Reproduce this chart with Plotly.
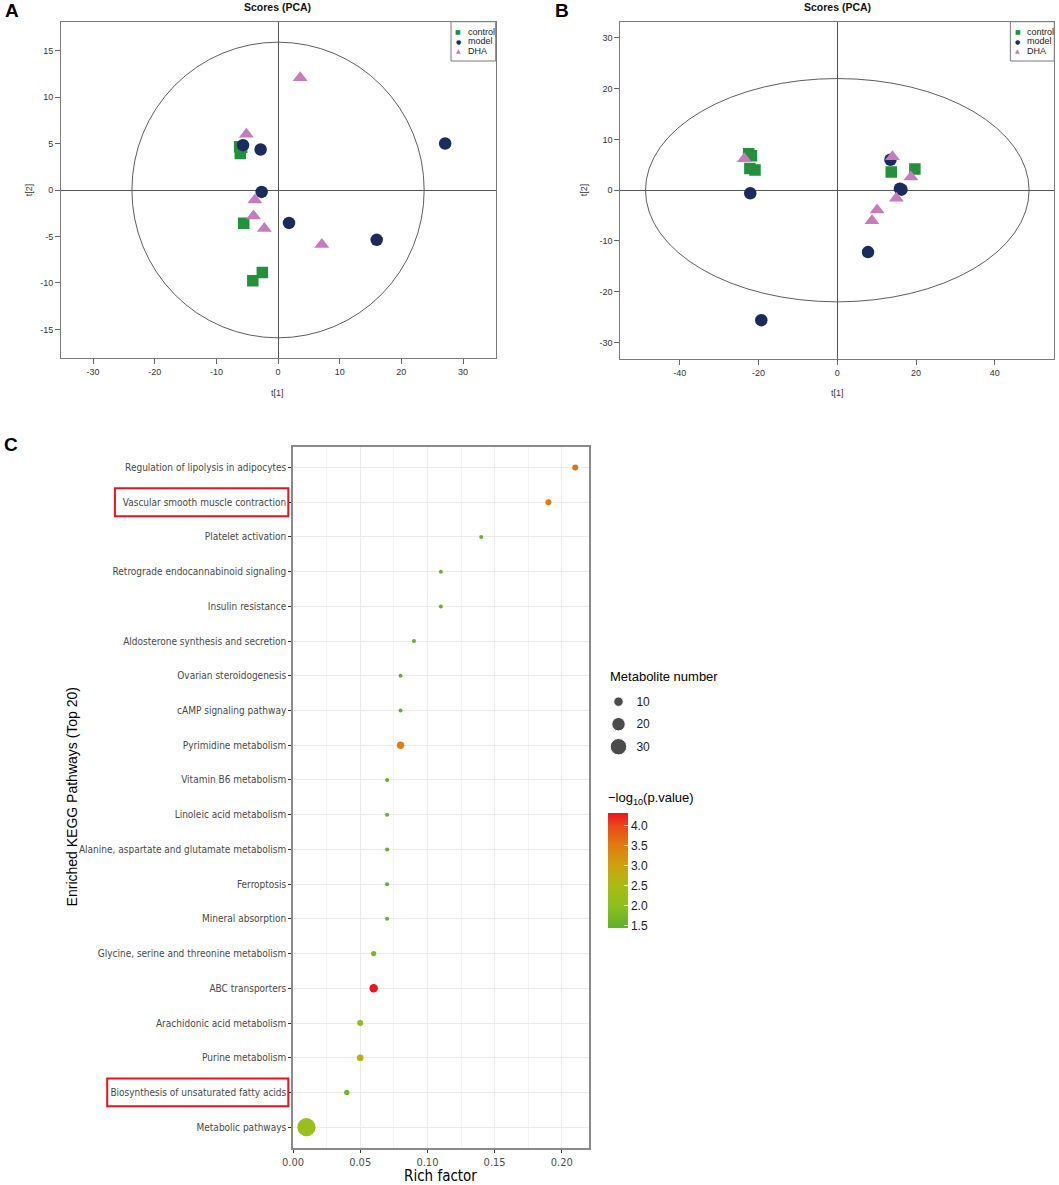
import plotly.graph_objects as go

W, H = 1059, 1185


def px(v):
    return v / W


def py(v):
    return 1 - v / H


# ---- PCA scores, panel A ----
a_control_t1 = [-6.23, -5.9, -6.12, -5.57, -2.55, -4.09]
a_control_t2 = [4.64, 4.6, 3.93, -3.57, -8.86, -9.75]
a_model_t1 = [-5.68, -2.83, -2.66, 1.78, 16.0, 27.1]
a_model_t2 = [4.82, 4.36, -0.21, -3.54, -5.36, 5.0]
a_dha_t1 = [3.59, -5.13, -3.76, -3.98, -2.22, 7.1]
a_dha_t2 = [12.07, 6.0, -1.07, -2.79, -4.14, -5.86]
a_ellipse = (23.7, 15.9)

# ---- PCA scores, panel B ----
b_control_t1 = [-22.5, -21.8, -22.2, -20.9, 13.7, 19.7]
b_control_t2 = [7.2, 6.8, 4.3, 4.0, 3.6, 4.2]
b_model_t1 = [-22.1, -19.3, 13.5, 15.9, 16.3, 7.8]
b_model_t2 = [-0.6, -25.6, 6.0, 0.3, 0.1, -12.2]
b_dha_t1 = [-23.6, 14.0, 18.7, 15.0, 10.1, 8.8]
b_dha_t2 = [6.2, 6.6, 2.6, -1.6, -3.9, -6.0]
b_ellipse = (48.7, 22.0)

# ---- KEGG enrichment, panel C (top to bottom) ----
pathways = [
    "Regulation of lipolysis in adipocytes",
    "Vascular smooth muscle contraction",
    "Platelet activation",
    "Retrograde endocannabinoid signaling",
    "Insulin resistance",
    "Aldosterone synthesis and secretion",
    "Ovarian steroidogenesis",
    "cAMP signaling pathway",
    "Pyrimidine metabolism",
    "Vitamin B6 metabolism",
    "Linoleic acid metabolism",
    "Alanine, aspartate and glutamate metabolism",
    "Ferroptosis",
    "Mineral absorption",
    "Glycine, serine and threonine metabolism",
    "ABC transporters",
    "Arachidonic acid metabolism",
    "Purine metabolism",
    "Biosynthesis of unsaturated fatty acids",
    "Metabolic pathways",
]
rich_factor = [0.21, 0.19, 0.14, 0.11, 0.11, 0.09, 0.08, 0.08, 0.08, 0.07,
               0.07, 0.07, 0.07, 0.07, 0.06, 0.06, 0.05, 0.05, 0.04, 0.01]
metabolite_number = [4, 4, 1, 1, 1, 1, 1, 1, 6, 1,
                     1, 1, 1, 1, 3, 8, 4, 5, 3, 37]
neg_log10_p = [3.6, 3.45, 1.55, 1.5, 1.5, 1.47, 1.46, 1.46, 3.45, 1.44,
               1.44, 1.44, 1.44, 1.44, 1.75, 4.31, 2.0, 2.75, 1.65, 2.25]
highlighted = ["Vascular smooth muscle contraction", "Biosynthesis of unsaturated fatty acids"]

size_breaks = [10, 20, 30]
cbar_ticks = [1.5, 2.0, 2.5, 3.0, 3.5, 4.0]

groups = ["control", "model", "DHA"]
colors = {"control": "#23913b", "model": "#1b2b5e", "DHA": "#c67bbc"}
symbols = {"control": "square", "model": "circle", "DHA": "triangle-up"}
msize = {"control": 11.5, "model": 12.5, "DHA": 13}
glyphs = {"control": "\u25A0", "model": "\u25CF", "DHA": "\u25B2"}

pvalue_scale = [[0, "#5fb02c"], [0.2, "#8dc01e"], [0.37, "#abbb16"], [0.55, "#cfa010"],
                [0.72, "#e17a10"], [0.88, "#e84c18"], [1, "#ec1620"]]

sans = "Liberation Sans, Arial, sans-serif"
narrow = "Liberation Sans Narrow, Arial Narrow, DejaVu Sans Condensed, sans-serif"
sizeref = 2.0 / 9.0

fig = go.Figure()

pca = {
    "A": ("x", "y", [(a_control_t1, a_control_t2), (a_model_t1, a_model_t2), (a_dha_t1, a_dha_t2)]),
    "B": ("x2", "y2", [(b_control_t1, b_control_t2), (b_model_t1, b_model_t2), (b_dha_t1, b_dha_t2)]),
}
for panel, (xa, ya, series) in pca.items():
    for g, (t1, t2) in zip(groups, series):
        fig.add_trace(go.Scatter(
            x=t1, y=t2, mode="markers", xaxis=xa, yaxis=ya, showlegend=False,
            marker=dict(symbol=symbols[g], size=msize[g], color=colors[g], line=dict(width=0)),
        ))

# enrichment bubbles
fig.add_trace(go.Scatter(
    x=rich_factor, y=pathways, mode="markers", xaxis="x3", yaxis="y3", showlegend=False,
    marker=dict(
        size=metabolite_number, sizemode="area", sizeref=sizeref, sizemin=2,
        color=neg_log10_p, colorscale=pvalue_scale, opacity=1,
        cmin=min(neg_log10_p), cmax=max(neg_log10_p), line=dict(width=0),
        colorbar=dict(
            x=px(608.3), xanchor="left", xpad=0, y=py(870.8), yanchor="middle", ypad=0,
            len=115, lenmode="pixels", thickness=20, outlinewidth=0,
            tickvals=cbar_ticks, ticktext=["%.1f" % v for v in cbar_ticks],
            ticks="inside", ticklen=4, tickcolor="white",
            tickfont=dict(family=sans, size=12, color="#1a1a1a"),
        ),
    ),
))

# size legend
fig.add_trace(go.Scatter(
    x=[0] * len(size_breaks), y=[str(v) for v in size_breaks], mode="markers",
    xaxis="x4", yaxis="y4", showlegend=False,
    marker=dict(size=size_breaks, sizemode="area", sizeref=sizeref, color="black"),
))

pca_axis = dict(showgrid=False, showline=True, mirror=True, linecolor="#7a7a7a", linewidth=1,
                ticks="outside", ticklen=5, tickcolor="#666", zeroline=True,
                zerolinecolor="#555", zerolinewidth=1,
                tickfont=dict(family=sans, size=9, color="#333"))

a_xt = [-30, -20, -10, 0, 10, 20, 30]
a_yt = [-15, -10, -5, 0, 5, 10, 15]
b_xt = [-40, -20, 0, 20, 40]
b_yt = [-30, -20, -10, 0, 10, 20, 30]

fig.update_layout(
    width=W, height=H, template="none", margin=dict(l=0, r=0, t=0, b=0),
    paper_bgcolor="white", plot_bgcolor="white", showlegend=False,
    xaxis=dict(pca_axis, domain=[px(61), px(495.7)], range=[-35.2, 35.3], anchor="y",
               tickvals=a_xt, ticktext=[str(v) for v in a_xt]),
    yaxis=dict(pca_axis, domain=[py(358.3), py(21.7)], range=[-18.1, 18.1], anchor="x",
               tickvals=a_yt, ticktext=[str(v) for v in a_yt]),
    xaxis2=dict(pca_axis, domain=[px(620.3), px(1054.3)], range=[-55.1, 55.1], anchor="y2",
                tickvals=b_xt, ticktext=[str(v) for v in b_xt]),
    yaxis2=dict(pca_axis, domain=[py(358.7), py(21.7)], range=[-33.2, 33.2], anchor="x2",
                tickvals=b_yt, ticktext=[str(v) for v in b_yt]),
    xaxis3=dict(domain=[px(293), px(588.7)], range=[0, 0.22], anchor="y3",
                tickvals=[0, 0.05, 0.1, 0.15, 0.2], tickformat=".2f",
                showgrid=True, gridcolor="#ebebeb", gridwidth=1,
                minor=dict(dtick=0.025, tick0=0, showgrid=True, gridcolor="#f4f4f4", gridwidth=0.6),
                showline=True, mirror=True, linecolor="#8a8a8a", linewidth=1.5,
                ticks="outside", ticklen=3, tickcolor="#333", zeroline=False,
                tickfont=dict(family=narrow, size=11, color="#4d4d4d")),
    yaxis3=dict(domain=[py(1148), py(446.7)], anchor="x3", type="category",
                categoryorder="array", categoryarray=pathways[::-1], range=[-0.6, len(pathways) - 0.4],
                showgrid=True, gridcolor="#ebebeb", gridwidth=1.2,
                showline=True, mirror=True, linecolor="#8a8a8a", linewidth=1.5,
                ticks="outside", ticklen=3, tickcolor="#333", zeroline=False,
                tickfont=dict(family=narrow, size=10, color="#474747")),
    xaxis4=dict(domain=[px(608), px(629)], range=[-1, 1], anchor="y4", visible=False),
    yaxis4=dict(domain=[py(758), py(690.4)], anchor="x4", side="right", type="category",
                categoryorder="array", categoryarray=[str(v) for v in size_breaks[::-1]],
                range=[-0.5, len(size_breaks) - 0.5], showgrid=False, showline=False, zeroline=False,
                ticks="outside", ticklen=4, tickcolor="rgba(0,0,0,0)",
                tickfont=dict(family=sans, size=12, color="#1a1a1a")),
)

shapes = []
for xa, ya, (rx, ry) in [("x", "y", a_ellipse), ("x2", "y2", b_ellipse)]:
    shapes.append(dict(type="circle", xref=xa, yref=ya, x0=-rx, x1=rx, y0=-ry, y1=ry,
                       line=dict(color="#333", width=0.8), layer="below"))

# legend boxes for the PCA panels
for x0, x1 in [(451, 495.7), (1010.4, 1054.3)]:
    shapes.append(dict(type="rect", xref="paper", yref="paper", x0=px(x0), x1=px(x1),
                       y0=py(61), y1=py(21.7), line=dict(color="#7a7a7a", width=1),
                       fillcolor="white"))

# red boxes around highlighted pathways
rev = pathways[::-1]
box_left = {"Vascular smooth muscle contraction": 114.9,
            "Biosynthesis of unsaturated fatty acids": 107.2}
for name in highlighted:
    i = rev.index(name)
    shapes.append(dict(type="rect", xref="paper", yref="y3", x0=px(box_left[name]), x1=px(288.3),
                       y0=i - 0.4, y1=i + 0.4, line=dict(color="#e8141c", width=2)))
fig.update_layout(shapes=shapes)

ann = []
# panel letters
for lab, x, y in [("A", 3, 11), ("B", 553, 11), ("C", 2, 444)]:
    ann.append(dict(text="<b>%s</b>" % lab, x=px(x), y=py(y), xref="paper", yref="paper",
                    xanchor="left", yanchor="middle", showarrow=False,
                    font=dict(family=sans, size=19, color="black")))
# PCA titles and axis titles
for cx, tx, t2x in [(277.7, 277.7, 29), (837.3, 837.3, 584)]:
    ann.append(dict(text="<b>Scores (PCA)</b>", x=px(cx), y=py(7), xref="paper", yref="paper",
                    xanchor="center", yanchor="middle", showarrow=False,
                    font=dict(family=sans, size=10.5, color="#111")))
    ann.append(dict(text="t[1]", x=px(tx), y=py(392.7), xref="paper", yref="paper",
                    xanchor="center", yanchor="middle", showarrow=False,
                    font=dict(family=sans, size=9, color="#333")))
    ann.append(dict(text="t[2]", x=px(t2x), y=py(190.2), xref="paper", yref="paper",
                    xanchor="center", yanchor="middle", showarrow=False, textangle=-90,
                    font=dict(family=sans, size=9, color="#333")))
# PCA legends
for left in [451, 1010.4]:
    for i, g in enumerate(groups):
        yy = 31.7 + 9.6 * i
        ann.append(dict(text=glyphs[g], x=px(left + 7.3), y=py(yy), xref="paper", yref="paper",
                        xanchor="center", yanchor="middle", showarrow=False,
                        font=dict(family="DejaVu Sans", size=6, color=colors[g])))
        ann.append(dict(text=g, x=px(left + 14.5), y=py(yy), xref="paper", yref="paper",
                        xanchor="left", yanchor="middle", showarrow=False,
                        font=dict(family=sans, size=9, color="#222")))
# panel C titles
ann.append(dict(text="Rich factor", x=px(440.8), y=py(1175.5), xref="paper", yref="paper",
                xanchor="center", yanchor="middle", showarrow=False,
                font=dict(family=narrow, size=15, color="black")))
ann.append(dict(text="Enriched KEGG Pathways (Top 20)", x=px(72), y=py(797.4), xref="paper",
                yref="paper", xanchor="center", yanchor="middle", showarrow=False, textangle=-90,
                font=dict(family=sans, size=14, color="black")))
ann.append(dict(text="Metabolite number", x=px(608), y=py(676), xref="paper", yref="paper",
                xanchor="left", yanchor="middle", showarrow=False,
                font=dict(family=sans, size=13, color="black")))
ann.append(dict(text="\u2212log<sub>10</sub>(p.value)", x=px(606), y=py(798), xref="paper",
                yref="paper", xanchor="left", yanchor="middle", showarrow=False,
                font=dict(family=sans, size=13, color="black")))
fig.update_layout(annotations=ann)

fig.write_html("out.html", config={"displayModeBar": False},
               post_script="document.body.style.margin='0px';")
